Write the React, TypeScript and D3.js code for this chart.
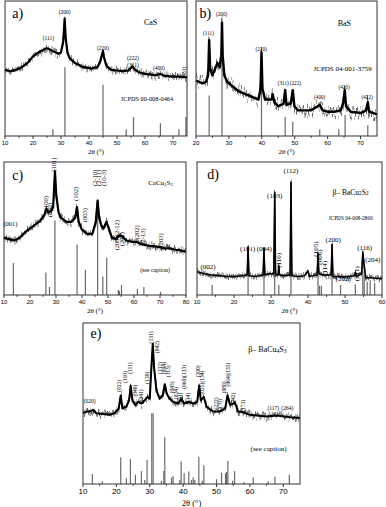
import React from 'react'
import { scaleLinear, line, curveLinear, range } from 'd3'

// ---- data (2θ in degrees, intensity in % of panel height) ----
const caSCurve: [number, number][] = [
  [10, 49], [12, 48], [14, 49], [16, 51], [18, 54], [20, 59], [22, 62], [24, 64], [25, 65], [26, 64],
  [27, 63], [28, 62], [29, 61], [30, 62], [30.8, 70], [31.3, 87], [31.7, 72], [32.3, 62], [33, 58],
  [35, 54], [38, 51], [41, 50], [43, 51], [44, 55], [44.6, 60], [45, 63], [45.4, 58], [46.2, 52],
  [48, 49], [50, 48.5], [52, 48], [54, 48.5], [55.5, 51.5], [56.5, 49], [58, 47], [60, 46], [62, 45.5],
  [64, 45], [65.5, 46], [67, 44.5], [70, 44], [72, 44], [75, 43.5],
]
const caSSticks: [number, number][] = [
  [27.1, 5], [31.4, 51], [45.0, 38], [53.3, 5], [55.9, 14], [65.5, 9.5], [72.1, 5], [74.6, 14],
]
const caSLabels: [string, number, number][] = [
  ['(111)', 25.5, 72], ['(200)', 31.3, 91], ['(220)', 45, 65], ['(222)', 55.7, 57], ['(311)', 55.7, 52],
  ['(400)', 65, 50],
]
const caSVLabels: [string, number, number][] = [['(331)', 74.3, 47]]

const baSCurve: [number, number][] = [
  [20, 41], [21, 40], [22, 39], [23, 40], [23.7, 45], [24, 71], [24.3, 50], [25, 45], [25.5, 48], [26.5, 54],
  [27.2, 51], [27.7, 60], [27.9, 84], [28.1, 60], [28.6, 45], [29.5, 40], [31, 37], [33, 33], [35, 31],
  [37, 29], [39, 27], [39.6, 35], [39.9, 62], [40.2, 35], [41, 27], [43, 27], [43.3, 31], [43.8, 25],
  [45, 22], [46.6, 24], [47.1, 34], [47.5, 23], [48.8, 24], [49.4, 34], [49.9, 22], [51, 19], [53, 19],
  [55, 19], [57.6, 23], [58.5, 19], [60, 18], [62, 18], [64, 19], [64.8, 25], [65.2, 34], [65.6, 22],
  [67, 18], [70, 17], [71.7, 19], [72.2, 25], [72.6, 18], [75, 16],
]
const baSSticks: [number, number][] = [
  [24, 30], [27.9, 82], [39.9, 62], [47.1, 14], [49.4, 10.5], [57.6, 5], [63.4, 5], [65.3, 15.5], [72.2, 8],
]
const baSLabels: [string, number, number][] = [
  ['(111)', 23.8, 76], ['(200)', 27.8, 90], ['(220)', 39.8, 64], ['(311)', 46.5, 38.5], ['(222)', 50.2, 38.5],
  ['(400)', 57.6, 28], ['(420)', 65, 36], ['(422)', 72, 28],
]

const caCuCurve: [number, number][] = [
  [10, 43], [12, 42], [14, 41], [16, 43], [18, 47], [20, 50], [22, 53], [24, 56], [25.5, 60], [26.3, 65],
  [27, 62], [28, 63], [28.9, 66], [29.6, 93], [30.1, 75], [31, 62], [32, 58], [34, 55], [36, 55], [37.4, 58],
  [38.1, 66], [38.7, 55], [40, 49], [42, 46], [44, 46], [45.3, 55], [46, 71], [46.6, 58], [47.5, 52],
  [48.2, 50], [49.4, 55], [50.3, 50], [51.5, 43], [53, 42], [54.5, 45], [55.5, 44], [57, 41], [59, 40],
  [61, 40], [63, 38], [66, 37], [68, 36.5], [70, 36], [72, 35], [74, 35], [76, 34], [78, 33.5], [80, 32.5],
]
const caCuSticks: [number, number][] = [
  [13.6, 24], [26.1, 17], [27.5, 6], [29.6, 56], [38.1, 38], [41.3, 19], [46.0, 71], [48.0, 14], [49.5, 28],
  [54.0, 4], [54.4, 3], [55.2, 7.5], [61.3, 4.5], [63.8, 6], [70.2, 2.5],
]
const caCuLabels: [string, number, number][] = [['(001)', 12.5, 53]]
const caCuVLabels: [string, number, number][] = [
  ['(100)', 26.2, 69], ['(002)', 27.9, 64], ['(101)', 29.6, 98], ['(102)', 37.9, 76], ['(003)', 41.3, 60],
  ['(2-10)', 45.2, 88], ['(2-11)', 46.9, 88], ['(10-3)', 48.5, 88], ['(200)(2-12)', 53.8, 45], ['(201)', 55.4, 42],
  ['(202)', 61.4, 47], ['(2-13)', 63.7, 44], ['(203)', 70.5, 41],
]

const baCu2Curve: [number, number][] = [
  [10, 17.5], [12, 16], [14, 15], [16, 14.5], [18, 14], [20, 14], [22, 14.5], [23.55, 15], [23.8, 36],
  [24.05, 14.5], [26, 14], [27.85, 15], [28.1, 35], [28.35, 15], [29.5, 16], [30.75, 16], [31, 77], [31.25, 15],
  [31.9, 15], [32.1, 22], [32.3, 15], [34, 14.5], [35.15, 15], [35.4, 85], [35.65, 14.5], [37, 14], [39, 14.5], [40, 18],
  [40.4, 14], [42.45, 15], [42.7, 31], [42.95, 16], [44, 15], [46.25, 15], [46.5, 38], [46.75, 14], [48, 14],
  [50, 13.5], [52.5, 14.5], [52.8, 17], [53.1, 14], [54.5, 16], [54.8, 32], [55.2, 22], [55.6, 13], [57, 13],
  [58.5, 12.5], [60, 12.5],
]
const baCu2Sticks: [number, number][] = [
  [14.1, 7.5], [23.8, 30], [28.1, 28], [31.0, 75], [32.1, 7.5], [35.4, 83], [42.7, 22], [43.1, 7], [43.6, 7],
  [46.5, 30], [48.8, 7.5], [52.8, 8], [54.8, 22], [55.2, 15], [56.0, 10], [56.8, 11], [58.0, 9],
]
const baCu2Labels: [string, number, number][] = [
  ['(002)', 13, 21], ['(101)', 23.7, 34.5], ['(004)', 28.2, 34], ['(103)', 31, 74], ['(112)', 35.4, 93],
  ['(200)', 46.8, 41], ['(202)', 49.5, 12], ['(116)', 55.3, 35], ['(204)', 57.5, 26],
]
const baCu2VLabels: [string, number, number][] = [
  ['(110)', 32.3, 26], ['(105)', 42.2, 34.5], ['(006)', 43.4, 28.5], ['(114)', 44.8, 20], ['(211)', 53.3, 16],
]

const baCu4Curve: [number, number][] = [
  [10, 44], [11, 45], [12, 45], [13, 46], [14, 44], [16, 43.5], [18, 43], [19.5, 44], [20.7, 47], [21.3, 55],
  [21.8, 47], [23, 48], [23.8, 52], [24.3, 61], [24.8, 52], [25.7, 49], [26.5, 51], [27.5, 50], [28.5, 52],
  [29.3, 54], [30, 53], [30.5, 73], [30.9, 87], [31.3, 72], [32, 58], [33, 53], [33.9, 55], [34.5, 62],
  [35.1, 56], [36, 53], [37, 51], [38.5, 50], [39.5, 53], [40.3, 50], [41.8, 51], [43, 50], [44.2, 51],
  [44.8, 61], [45.3, 52], [46.2, 54], [47, 48], [49, 45], [51, 45], [52.6, 47], [53.3, 55], [54.1, 49],
  [55.5, 50.5], [56.5, 45], [58, 44.5], [60, 43], [62, 42.5], [65, 42], [68, 42.5], [70, 42], [72, 41.5], [75, 41],
]
const baCu4Sticks: [number, number][] = [
  [12.8, 6.2], [15.8, 1.7], [21.3, 16.6], [23.0, 3.5], [24.2, 15.5], [25.7, 5.8], [27.5, 8], [28.5, 2.5],
  [29.2, 15], [30.6, 44], [31.0, 44], [33.5, 2], [34.2, 8], [34.5, 29], [36.5, 4], [37.0, 5], [39.0, 2.5],
  [39.4, 14], [40.3, 6.6], [41.7, 7.7], [42.5, 2.5], [43.0, 4], [43.5, 2.5], [44.7, 17], [45.7, 2], [46.2, 11.6],
  [50.0, 3], [51.5, 7], [52.7, 6.6], [53.0, 7.5], [53.4, 14.5], [54.8, 2], [55.4, 8], [58.2, 1.2], [61.0, 4],
  [65.5, 1.7], [67.5, 4.5], [71.8, 5.8],
]
const baCu4Labels: [string, number, number][] = [['(020)', 12, 51], ['(117)', 67, 47], ['(264)', 71.2, 47]]
const baCu4VLabels: [string, number, number][] = [
  ['(022)', 21.1, 61], ['(110)', 22.9, 66.5], ['(111)', 24.3, 72], ['(040)', 25.8, 58], ['(041)', 27.6, 55],
  ['(130)', 29.5, 66], ['(131)', 30.7, 91], ['(042)', 32.3, 85], ['(132)', 33.3, 72], ['(004)', 34.6, 72],
  ['(113)', 35.7, 70], ['(043)', 36.9, 60], ['(024)', 38.2, 56.5], ['(151)', 39.4, 53], ['(060)(133)', 40.4, 66.5],
  ['(114)', 41.6, 53], ['(200)', 44.6, 70], ['(025)(134)', 45.9, 63], ['(222)', 50.0, 50], ['(170)', 51.3, 49],
  ['(080)', 52.4, 60], ['(064)(135)', 53.6, 68], ['(242)', 55.2, 53], ['(173)', 58.2, 48.5],
]

const SERIF = '"Liberation Serif", "DejaVu Serif", serif'
const SANS = '"Liberation Sans", Arial, sans-serif'

type Txt = { parts: [string, boolean][]; fx: number; fy: number; size: number }

type PanelProps = {
  id: string
  box: [number, number, number, number]
  domain: [number, number]
  ticks: number[]
  curve: [number, number][]
  sticks: [number, number][]
  labels: [string, number, number][]
  vlabels: [string, number, number][]
  labelSize: number
  letter: string
  letterPos: [number, number]
  texts: Txt[]
  tickSize: number
  titleSize: number
  noise: number
  core: number
}

function NoiseFilter({ id, scale, seed }: { id: string; scale: number; seed: number }) {
  // vertical-only jitter, then a small vertical dilate so the jitter stays connected
  return (
    <filter id={id} x="-5%" y="-60%" width="110%" height="220%">
      <feTurbulence type="fractalNoise" baseFrequency="0.8 0.03" numOctaves={1} seed={seed} result="t" />
      <feColorMatrix in="t" type="matrix"
        values="0 0 0 0 0.5  0 2.2 0 0 -0.6  0 0 0 0 0  0 0 0 0 1" result="g" />
      <feDisplacementMap in="SourceGraphic" in2="g" scale={scale} xChannelSelector="R" yChannelSelector="G" result="d" />
      <feMorphology in="d" operator="dilate" radius="0 1" />
    </filter>
  )
}

function Panel(p: PanelProps) {
  const [x0, y0, x1, y1] = p.box
  const x = scaleLinear().domain(p.domain).range([x0, x1])
  const y = scaleLinear().domain([0, 100]).range([y1, y0])
  const path = line<[number, number]>()
    .x(d => x(d[0]))
    .y(d => y(d[1]))
    .curve(curveLinear)
  const minor = range(p.domain[0] + 5, p.domain[1], 10)
  const d = path(p.curve) || ''
  return (
    <g>
      <defs>
        <NoiseFilter id={'n1' + p.id} scale={p.noise} seed={5} />
        <NoiseFilter id={'n2' + p.id} scale={p.noise} seed={19} />
      </defs>
      {p.sticks.map((s, i) => (
        <line key={'s' + i} x1={x(s[0])} x2={x(s[0])} y1={y(0)} y2={y(s[1])} stroke="#6a6a6a" strokeWidth={1.2} />
      ))}
      <path d={d} fill="none" stroke="#9a9a9a" strokeWidth={0.8} filter={`url(#n2${p.id})`} />
      <path d={d} fill="none" stroke="#444" strokeWidth={0.8} filter={`url(#n1${p.id})`} />
      <path d={d} fill="none" stroke="#000" strokeWidth={p.core} strokeLinejoin="round" />
      <rect x={x0} y={y0} width={x1 - x0} height={y1 - y0} fill="none" stroke="#333" strokeWidth={1} />
      {p.ticks.map(t => (
        <g key={'t' + t}>
          <line x1={x(t)} x2={x(t)} y1={y1} y2={y1 + 3} stroke="#333" />
          <text x={x(t)} y={y1 + 4 + p.tickSize * 0.8} textAnchor="middle" fontSize={p.tickSize} fontFamily={SANS}>{t}</text>
        </g>
      ))}
      {minor.map(t => (
        <line key={'m' + t} x1={x(t)} x2={x(t)} y1={y1} y2={y1 + 1.8} stroke="#333" />
      ))}
      <text x={(x0 + x1) / 2} y={y1 + 6 + p.tickSize + p.titleSize * 0.9} textAnchor="middle" fontSize={p.titleSize}
        fontFamily={SERIF}>2θ (°)</text>
      {p.labels.map((l, i) => (
        <text key={'l' + i} x={x(l[1])} y={y(l[2])} textAnchor="middle" dominantBaseline="middle"
          fontSize={p.labelSize} fontFamily={SERIF}>{l[0]}</text>
      ))}
      {p.vlabels.map((l, i) => (
        <text key={'v' + i} transform={`translate(${x(l[1])},${y(l[2])}) rotate(-90)`} textAnchor="middle"
          dominantBaseline="middle" fontSize={p.labelSize} fontFamily={SERIF}>{l[0]}</text>
      ))}
      <text x={x0 + (x1 - x0) * p.letterPos[0]} y={y0 + (y1 - y0) * p.letterPos[1]} dominantBaseline="middle"
        fontSize={14} fontFamily={SERIF}>{p.letter}</text>
      {p.texts.map((t, i) => (
        <text key={'x' + i} x={x0 + (x1 - x0) * t.fx} y={y0 + (y1 - y0) * t.fy} textAnchor="middle"
          dominantBaseline="middle" fontSize={t.size} fontFamily={SERIF}>
          {t.parts.map((pt, j) => pt[1]
            ? <tspan key={j} fontSize={t.size * 0.7} dy={t.size * 0.25}>{pt[0]}</tspan>
            : <tspan key={j} dy={j > 0 && t.parts[j - 1][1] ? -t.size * 0.25 : 0}>{pt[0]}</tspan>)}
        </text>
      ))}
    </g>
  )
}

export default function App() {
  return (
    <svg width={386} height={507} style={{ display: 'block', position: 'absolute', left: 0, top: 0, background: '#fff' }}>
      <Panel id="a" box={[5, 1, 187, 136]} domain={[10, 75]} ticks={[10, 20, 30, 40, 50, 60, 70]}
        curve={caSCurve} sticks={caSSticks} labels={caSLabels} vlabels={caSVLabels} labelSize={5.5}
        letter="a)" letterPos={[0.04, 0.1]} tickSize={6} titleSize={7} noise={7} core={2.2}
        texts={[
          { parts: [['CaS', false]], fx: 0.8, fy: 0.16, size: 8 },
          { parts: [['JCPDS 00-008-0464', false]], fx: 0.78, fy: 0.73, size: 6.3 },
        ]} />
      <Panel id="b" box={[196, 1, 377, 136]} domain={[20, 75]} ticks={[20, 30, 40, 50, 60, 70]}
        curve={baSCurve} sticks={baSSticks} labels={baSLabels} vlabels={[]} labelSize={5.2}
        letter="b)" letterPos={[0.02, 0.1]} tickSize={6} titleSize={7} noise={14} core={2.4}
        texts={[
          { parts: [['BaS', false]], fx: 0.82, fy: 0.17, size: 8 },
          { parts: [['JCPDS 04-001-3759', false]], fx: 0.81, fy: 0.5, size: 7 },
        ]} />
      <Panel id="c" box={[4, 162, 186, 295]} domain={[10, 80]} ticks={[10, 20, 30, 40, 50, 60, 70, 80]}
        curve={caCuCurve} sticks={caCuSticks} labels={caCuLabels} vlabels={caCuVLabels} labelSize={6.5}
        letter="c)" letterPos={[0.045, 0.11]} tickSize={6} titleSize={7} noise={7} core={2.2}
        texts={[
          { parts: [['CaCu', false], ['2', true], ['S', false], ['2', true]], fx: 0.86, fy: 0.16, size: 7 },
          { parts: [['(see caption)', false]], fx: 0.83, fy: 0.82, size: 5.8 },
        ]} />
      <Panel id="d" box={[197, 162, 382, 295]} domain={[10, 60]} ticks={[10, 20, 30, 40, 50, 60]}
        curve={baCu2Curve} sticks={baCu2Sticks} labels={baCu2Labels} vlabels={baCu2VLabels} labelSize={7}
        letter="d)" letterPos={[0.055, 0.1]} tickSize={6} titleSize={7} noise={5} core={1.5}
        texts={[
          { parts: [['β– BaCu', false], ['2', true], ['S', false], ['2', true]], fx: 0.83, fy: 0.23, size: 7.5 },
          { parts: [['JCPDS 04-008-2860', false]], fx: 0.83, fy: 0.43, size: 5.3 },
        ]} />
      <Panel id="e" box={[83, 323, 300, 484]} domain={[10, 75]} ticks={[10, 20, 30, 40, 50, 60, 70]}
        curve={baCu4Curve} sticks={baCu4Sticks} labels={baCu4Labels} vlabels={baCu4VLabels} labelSize={5.5}
        letter="e)" letterPos={[0.035, 0.075]} tickSize={8} titleSize={8.5} noise={7} core={2}
        texts={[
          { parts: [['β– BaCu', false], ['4', true], ['S', false], ['3', true]], fx: 0.85, fy: 0.17, size: 8 },
          { parts: [['(see caption)', false]], fx: 0.855, fy: 0.78, size: 7 },
        ]} />
    </svg>
  )
}
